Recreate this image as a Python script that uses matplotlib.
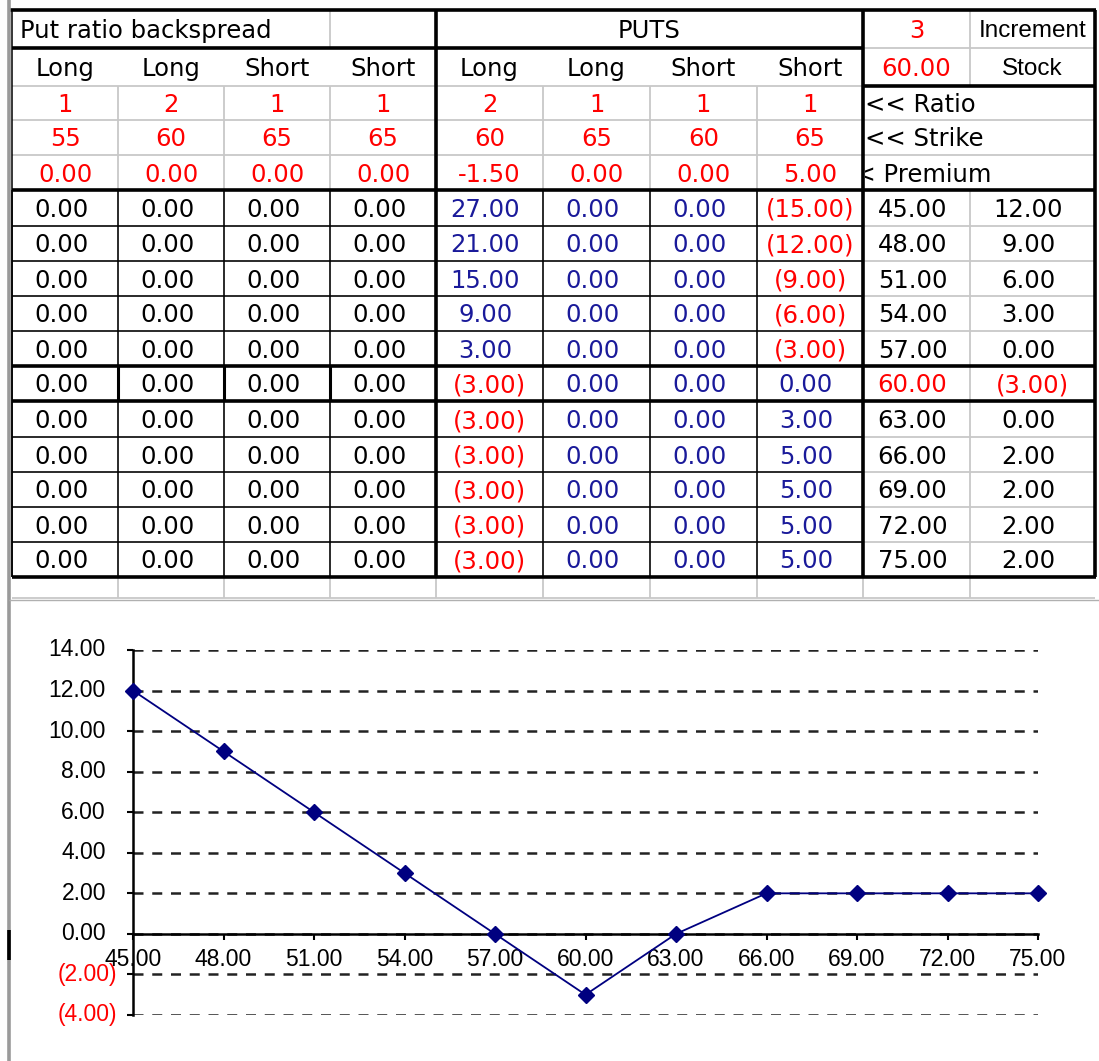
import matplotlib
matplotlib.use("Agg")
import matplotlib.pyplot as plt
from matplotlib.transforms import Bbox, TransformedBbox

titre = "Put ratio backspread"
titre_puts = "PUTS"
increment = 3
stock = 60.00
types_gauche = ["Long", "Long", "Short", "Short"]
types_puts = ["Long", "Long", "Short", "Short"]
ratio_gauche = [1, 2, 1, 1]
strike_gauche = [55, 60, 65, 65]
premium_gauche = [0.00, 0.00, 0.00, 0.00]
ratio_puts = [2, 1, 1, 1]
strike_puts = [60, 65, 60, 65]
premium_puts = [-1.50, 0.00, 0.00, 5.00]
etiquettes_droite = ["<< Ratio", "<< Strike", "<< Premium"]

prix = [45.00, 48.00, 51.00, 54.00, 57.00, 60.00, 63.00, 66.00, 69.00, 72.00, 75.00]
long_a = [0.00, 0.00, 0.00, 0.00, 0.00, 0.00, 0.00, 0.00, 0.00, 0.00, 0.00]
long_b = [0.00, 0.00, 0.00, 0.00, 0.00, 0.00, 0.00, 0.00, 0.00, 0.00, 0.00]
short_a = [0.00, 0.00, 0.00, 0.00, 0.00, 0.00, 0.00, 0.00, 0.00, 0.00, 0.00]
short_b = [0.00, 0.00, 0.00, 0.00, 0.00, 0.00, 0.00, 0.00, 0.00, 0.00, 0.00]
put_long_a = [27.00, 21.00, 15.00, 9.00, 3.00, -3.00, -3.00, -3.00, -3.00, -3.00, -3.00]
put_long_b = [0.00, 0.00, 0.00, 0.00, 0.00, 0.00, 0.00, 0.00, 0.00, 0.00, 0.00]
put_short_a = [0.00, 0.00, 0.00, 0.00, 0.00, 0.00, 0.00, 0.00, 0.00, 0.00, 0.00]
put_short_b = [-15.00, -12.00, -9.00, -6.00, -3.00, 0.00, 3.00, 5.00, 5.00, 5.00, 5.00]
profit = [12.00, 9.00, 6.00, 3.00, 0.00, -3.00, 0.00, 2.00, 2.00, 2.00, 2.00]

y_ticks = [-4, -2, 0, 2, 4, 6, 8, 10, 12, 14]

# --- mise en page (pixels) ---
W, H = 1099, 1061
col_x = [12, 118, 224, 330, 436, 543, 650, 757, 863, 970, 1095]
row_head = [10, 48, 86, 120, 155, 190]
row_data = [190, 226, 261, 296, 331, 366, 401, 437, 472, 507, 542, 577]
bas_vide = 598

ROUGE = "#ff0000"
BLEU = "#1a1a9a"
GRIS = "#c8c8c8"
POLICE = "DejaVu Sans"
TAILLE = 17.5
DY = 2  # petit décalage vertical du texte


def fmt(v):
    if v < 0:
        return "({:.2f})".format(-v)
    return "{:.2f}".format(v)


def centre(i):
    return (col_x[i] + col_x[i + 1]) / 2


fig = plt.figure(figsize=(W / 100, H / 100), dpi=100)
fig.patch.set_facecolor("white")
ax0 = fig.add_axes([0, 0, 1, 1])
ax0.set_xlim(0, W)
ax0.set_ylim(H, 0)
ax0.axis("off")


def hligne(y, x0, x1, lw, c="black", z=2):
    ax0.plot([x0, x1], [y, y], color=c, lw=lw, solid_capstyle="butt", zorder=z)


def vligne(x, y0, y1, lw, c="black", z=2):
    ax0.plot([x, x], [y0, y1], color=c, lw=lw, solid_capstyle="butt", zorder=z)


def texte(x, y, s, c="black", ha="center", family=POLICE, **kw):
    return ax0.text(x, y + DY, s, color=c, ha=ha, va="center", fontsize=TAILLE,
                    family=family, **kw)


# lignes grises de la feuille
for y in row_head[1:] + row_data[1:] + [bas_vide]:
    hligne(y, col_x[0], col_x[-1], 1.3, GRIS, 1)
for x in col_x[1:9]:
    vligne(x, row_head[2], bas_vide, 1.3, GRIS, 1)
vligne(col_x[3], row_head[0], row_head[1], 1.3, GRIS, 1)
vligne(col_x[9], row_head[0], row_head[2], 1.3, GRIS, 1)
vligne(col_x[9], row_data[0], bas_vide, 1.3, GRIS, 1)

# bordures noires fines des lignes de données (colonnes 1 à 8)
for y in row_data:
    hligne(y, col_x[0], col_x[8], 1.1)
for x in col_x[:9]:
    vligne(x, row_data[0], row_data[-1], 1.1)
for x in col_x[1:4]:
    vligne(x, row_data[5], row_data[6], 2.2)

# bordures épaisses
hligne(row_head[0], 8, col_x[-1] + 1, 2.6)
hligne(row_head[1], col_x[0], col_x[8], 2.6)
hligne(row_head[2], col_x[8], col_x[-1], 2.6)
for y in [row_head[5], row_data[5], row_data[6], row_data[-1]]:
    hligne(y, col_x[0], col_x[-1] + 1, 2.6)
for x in [col_x[4], col_x[8], col_x[-1]]:
    vligne(x, row_head[0], row_data[-1], 2.6)
vligne(col_x[0], row_head[0], row_data[-1], 1.1)
# bord de la fenêtre
vligne(9, 0, H, 2.6, "#9a9a9a")
vligne(9, 930, 960, 2.6, "black")
hligne(bas_vide + 2, 9, W, 1.0, "#b0b0b0")

# en-têtes
ym = lambda k: (row_head[k] + row_head[k + 1]) / 2
texte(col_x[0] + 8, ym(0), titre, ha="left")
texte((col_x[4] + col_x[8]) / 2, ym(0), titre_puts)
texte(centre(8), ym(0), str(increment), c=ROUGE)
texte(centre(9), ym(0), "Increment", family="Liberation Sans")
texte(centre(8), ym(1), "{:.2f}".format(stock), c=ROUGE)
texte(centre(9), ym(1), "Stock", family="Liberation Sans")

for i in range(4):
    texte(centre(i), ym(1), types_gauche[i])
    texte(centre(i), ym(2), str(ratio_gauche[i]), c=ROUGE)
    texte(centre(i), ym(3), str(strike_gauche[i]), c=ROUGE)
    texte(centre(i), ym(4), "{:.2f}".format(premium_gauche[i]), c=ROUGE)
    texte(centre(i + 4), ym(1), types_puts[i])
    texte(centre(i + 4), ym(2), str(ratio_puts[i]), c=ROUGE)
    texte(centre(i + 4), ym(3), str(strike_puts[i]), c=ROUGE)
    texte(centre(i + 4), ym(4), "{:.2f}".format(premium_puts[i]), c=ROUGE)

# libellés de droite, coupés par la bordure épaisse
boite = TransformedBbox(Bbox([[col_x[8] + 2, 0], [W, H]]), ax0.transData)
for k, lab in enumerate(etiquettes_droite):
    x0 = col_x[8] + 2 if k < 2 else col_x[8] - 28
    t = texte(x0, ym(k + 2), lab, ha="left")
    t.set_clip_on(True)
    t.set_clip_box(boite)

# lignes de données
colonnes = [long_a, long_b, short_a, short_b,
            put_long_a, put_long_b, put_short_a, put_short_b]
for r in range(len(prix)):
    yc = (row_data[r] + row_data[r + 1]) / 2
    for j, col in enumerate(colonnes):
        v = col[r]
        if j < 4:
            c = "black"
        else:
            c = ROUGE if v < 0 else BLEU
        dx = 0 if v < 0 else -4
        texte(centre(j) + dx, yc, fmt(v), c=c)
    c = ROUGE if prix[r] == stock else "black"
    texte(centre(8) - 4, yc, "{:.2f}".format(prix[r]), c=c)
    v = profit[r]
    c = ROUGE if (v < 0 or prix[r] == stock) else "black"
    texte(centre(9) + (0 if v < 0 else -4), yc, fmt(v), c=c)

# --- graphique du profit ---
ax = fig.add_axes([133 / W, 1 - 1015 / H, (1038 - 133) / W, (1015 - 650) / H])
ax.patch.set_alpha(0)
ax.plot(prix, profit, color="#000080", lw=1.3, marker="D", ms=8.5, clip_on=False, zorder=5)
ax.set_xlim(45, 75)
ax.set_ylim(-4, 14)
for s in ["top", "right"]:
    ax.spines[s].set_visible(False)
ax.spines["bottom"].set_position(("data", 0))
ax.spines["bottom"].set_linewidth(1.8)
ax.spines["left"].set_linewidth(1.8)
ax.set_xticks(prix)
ax.set_xticklabels(["{:.2f}".format(p) for p in prix])
ax.set_yticks(y_ticks)
ax.set_yticklabels([])
ax.tick_params(axis="x", direction="out", length=4.5, width=1.5, pad=6, labelsize=16.5)
ax.tick_params(axis="y", direction="out", length=4.5, width=1.5)
for lab in ax.get_xticklabels():
    lab.set_family("Liberation Sans")
ax.yaxis.grid(True, ls=(0, (4, 3.5)), color="#222222", lw=1.8)
ax.set_axisbelow(True)
for v in y_ticks:
    if v < 0:
        lab, c, dx = "({:.2f})".format(-v), ROUGE, -11.5
    else:
        lab, c, dx = "{:.2f}".format(v), "black", -19.5
    ax.annotate(lab, xy=(0, v), xycoords=("axes fraction", "data"), xytext=(dx, 0),
                textcoords="offset points", ha="right", va="center", color=c,
                family="Liberation Sans", fontsize=16.5)

plt.savefig("out.png", dpi=100)
